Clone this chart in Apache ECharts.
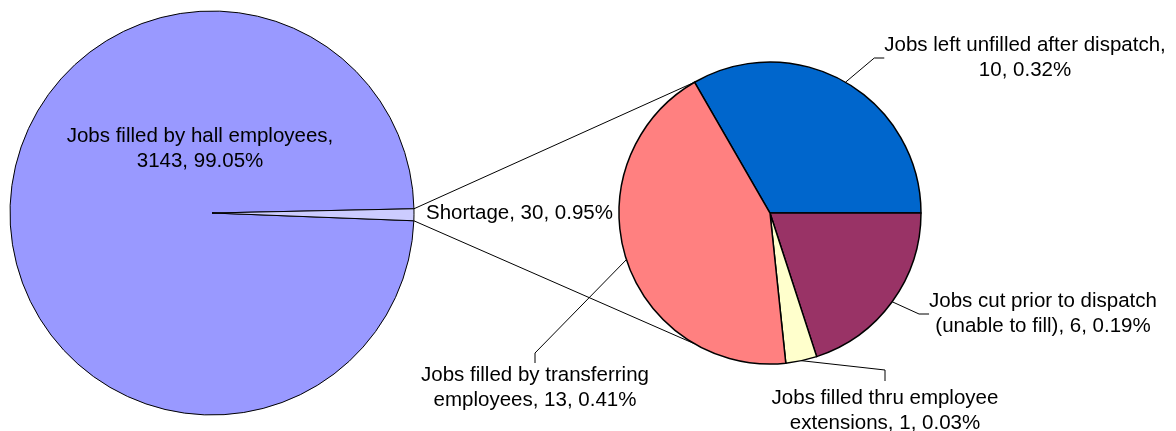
<!DOCTYPE html>
<html>
<head>
<meta charset="utf-8">
<script src="https://cdn.jsdelivr.net/npm/echarts@6/dist/echarts.min.js"></script>
<style>
  html, body { margin: 0; padding: 0; background: #fff; }
  #main { width: 1176px; height: 431px; }
</style>
</head>
<body>
<div id="main"></div>
<script>
// main pie
var mainNames = ['Jobs filled by hall employees', 'Shortage'];
var mainValues = [3143, 30];
var mainColors = ['#9999FF', '#CCCCFF'];
var mainWrap = [true, false];

// breakdown of the shortage slice
var subNames = [
  'Jobs left unfilled after dispatch',
  'Jobs cut prior to dispatch\n(unable to fill)',
  'Jobs filled thru employee\nextensions',
  'Jobs filled by transferring\nemployees'
];
var subValues = [10, 6, 1, 13];
var subColors = ['#0066CC', '#993366', '#FFFFCC', '#FF8080'];
var subWrap = [true, false, false, false];

(function() {
  var myChart = echarts.init(document.getElementById('main'));
  var total = mainValues.reduce(function(a, b) { return a + b; }, 0);
  var subTotal = subValues.reduce(function(a, b) { return a + b; }, 0);

  var bigCenter = [212, 213], bigR = 202;
  var smallCenter = [770, 213], smallR = 151;
  var smallStart = 120;
  // shortage slice sits just below the horizontal on the right
  var shortDeg = 360 * mainValues[1] / total;
  var shortTop = 1.2;
  var bigStart = shortTop - shortDeg + 360;

  function makeLabel(name, value, wrap) {
    var pct = (value / total * 100).toFixed(2) + '%';
    return name + (wrap ? ',\n' : ', ') + value + ', ' + pct;
  }

  var mainData = mainNames.map(function(n, i) {
    return { name: n, value: mainValues[i], itemStyle: { color: mainColors[i] }, wrap: mainWrap[i] };
  });
  var subData = subNames.map(function(n, i) {
    return { name: n, value: subValues[i], itemStyle: { color: subColors[i] }, wrap: subWrap[i] };
  });

  var lineH = 25;
  var mainLabelPos = [[200, 149, 'center'], [426, 213, 'left']];
  var subLabelPos = [[1025, 58], [1043, 314], [885, 411], [535, 388]];

  function pt(c, r, deg) {
    var a = deg * Math.PI / 180;
    return [c[0] + r * Math.cos(a), c[1] - r * Math.sin(a)];
  }
  // mid angle of a slice in the small pie (math degrees)
  function subMid(idx) {
    var before = 0;
    for (var i = 0; i < idx; i++) before += subValues[i];
    return smallStart - 360 * (before + subValues[idx] / 2) / subTotal;
  }

  var p1 = pt(bigCenter, bigR, shortTop);
  var p2 = pt(bigCenter, bigR, shortTop - shortDeg);
  var q1 = pt(smallCenter, smallR, smallStart);
  var q2 = pt(smallCenter, smallR, 360 - smallStart);

  var textStyle = {
    color: '#000',
    fontFamily: 'Liberation Sans, Arial, sans-serif',
    fontSize: 20.5,
    lineHeight: lineH
  };

  var option = {
    backgroundColor: '#fff',
    animation: false,
    graphic: [
      { type: 'line', z: 1, shape: { x1: p1[0], y1: p1[1], x2: q1[0], y2: q1[1] }, style: { stroke: '#000', lineWidth: 1 } },
      { type: 'line', z: 1, shape: { x1: p2[0], y1: p2[1], x2: q2[0], y2: q2[1] }, style: { stroke: '#000', lineWidth: 1 } }
    ],
    series: [
      {
        type: 'pie',
        center: bigCenter,
        radius: bigR,
        startAngle: bigStart,
        clockwise: true,
        avoidLabelOverlap: false,
        silent: true,
        z: 3,
        itemStyle: { borderColor: '#000', borderWidth: 1 },
        label: Object.assign({
          position: 'inside',
          formatter: function(p) { return makeLabel(p.name, p.value, p.data.wrap); }
        }, textStyle),
        labelLine: { show: false },
        labelLayout: function(p) {
          var pos = mainLabelPos[p.dataIndex];
          return { x: pos[0], y: pos[1], align: pos[2], verticalAlign: 'middle' };
        },
        data: mainData
      },
      {
        type: 'pie',
        center: smallCenter,
        radius: smallR,
        startAngle: smallStart,
        clockwise: true,
        avoidLabelOverlap: false,
        silent: true,
        z: 3,
        itemStyle: { borderColor: '#000', borderWidth: 1.5 },
        label: Object.assign({
          position: 'outside',
          align: 'center',
          formatter: function(p) { return makeLabel(p.name, p.value, p.data.wrap); }
        }, textStyle),
        labelLine: { show: true, length: 15, length2: 10, lineStyle: { color: '#000', width: 1 } },
        labelLayout: function(p) {
          var pos = subLabelPos[p.dataIndex];
          var res = { x: pos[0], y: pos[1], align: 'center', verticalAlign: 'middle' };
          if (p.dataIndex === 2) {
            // leader runs right then drops onto the top of the label
            var top = pos[1] - lineH;
            var a = pt(smallCenter, smallR, subMid(2));
            res.labelLinePoints = [a, [pos[0], top - 16], [pos[0], top - 5]];
          }
          return res;
        },
        data: subData
      }
    ]
  };
  myChart.setOption(option);
})();
</script>
</body>
</html>
